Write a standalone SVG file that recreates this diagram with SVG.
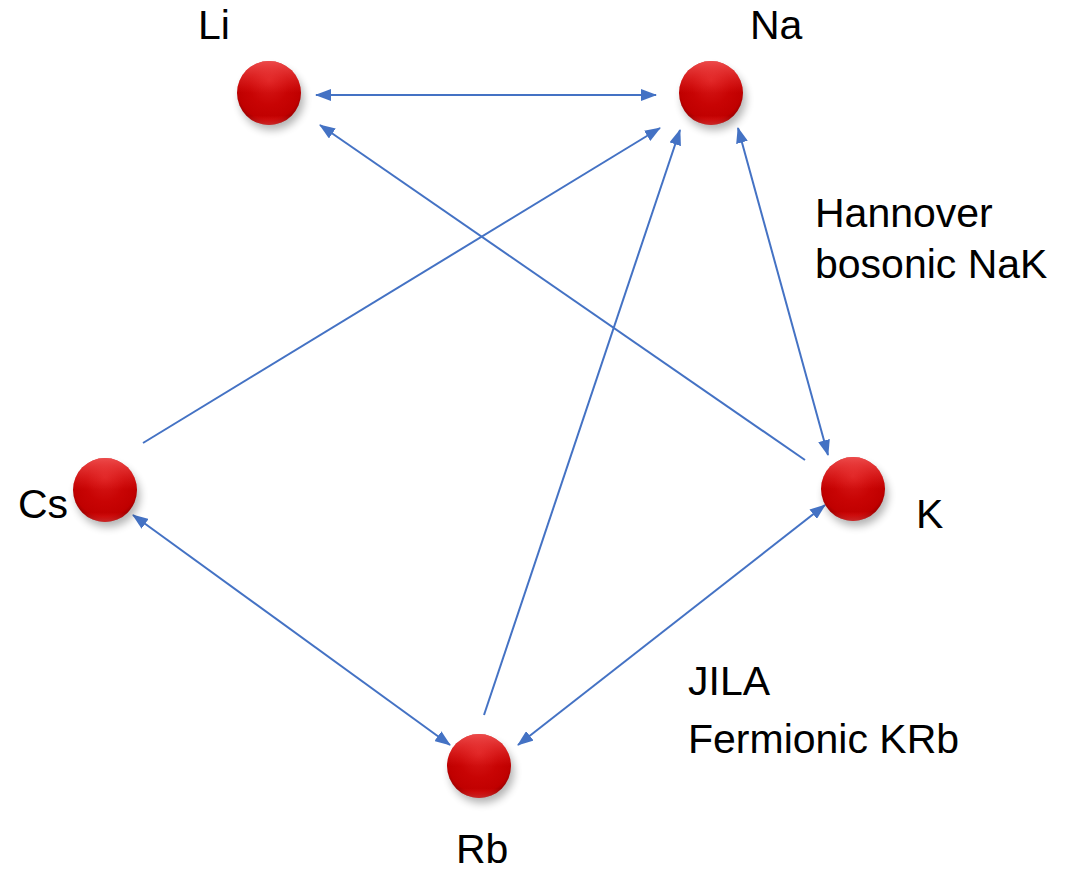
<svg xmlns="http://www.w3.org/2000/svg" width="1081" height="873" viewBox="0 0 1081 873">
  <style>
    .lbl { font-family: "Liberation Sans", Arial, sans-serif; font-size: 41px; fill: #000; }
    .link { stroke: #4472C4; stroke-width: 2; fill: none; }
  </style>
  <defs>
    <radialGradient id="ball" cx="0.5" cy="0.45" r="0.55" fx="0.5" fy="0.3">
      <stop offset="0" stop-color="#d81a1a"/>
      <stop offset="0.55" stop-color="#c80404"/>
      <stop offset="0.88" stop-color="#c00000"/>
      <stop offset="1" stop-color="#9a0000"/>
    </radialGradient>
    <linearGradient id="gloss" x1="0" y1="0" x2="0" y2="1">
      <stop offset="0" stop-color="#ff6a6a" stop-opacity="0.7"/>
      <stop offset="0.5" stop-color="#ff4040" stop-opacity="0"/>
      <stop offset="0.85" stop-color="#ff3030" stop-opacity="0"/>
      <stop offset="1" stop-color="#ff5050" stop-opacity="0.5"/>
    </linearGradient>
    <filter id="shadow" x="-50%" y="-50%" width="200%" height="200%">
      <feGaussianBlur stdDeviation="4"/>
    </filter>
    <marker id="head" viewBox="0 0 16 12" refX="15" refY="6" markerWidth="16" markerHeight="12" markerUnits="userSpaceOnUse" orient="auto-start-reverse">
      <path d="M0,0 L16,6 L0,12 Z" fill="#4472C4"/>
    </marker>
    <g id="sphere">
      <ellipse cx="3" cy="6" rx="32" ry="31" fill="#000" opacity="0.3" filter="url(#shadow)"/>
      <circle r="32" fill="url(#ball)"/>
      <circle r="32" fill="url(#gloss)"/>
    </g>
  </defs>

  <!-- connectors -->
  <g id="connectors">
    <line class="link" x1="316" y1="95" x2="656" y2="95" marker-start="url(#head)" marker-end="url(#head)"/>
    <line class="link" x1="805" y1="460" x2="320" y2="125" marker-end="url(#head)"/>
    <line class="link" x1="143" y1="443" x2="660" y2="128" marker-end="url(#head)"/>
    <line class="link" x1="484" y1="715" x2="680" y2="130" marker-end="url(#head)"/>
    <line class="link" x1="738" y1="128" x2="828" y2="455" marker-start="url(#head)" marker-end="url(#head)"/>
    <line class="link" x1="133" y1="515" x2="450" y2="745" marker-start="url(#head)" marker-end="url(#head)"/>
    <line class="link" x1="518" y1="745" x2="825" y2="505" marker-start="url(#head)" marker-end="url(#head)"/>
  </g>

  <!-- atoms -->
  <g id="Li">
    <use href="#sphere" x="269" y="93"/>
    <text class="lbl" x="198" y="39">Li</text>
  </g>
  <g id="Na">
    <use href="#sphere" x="711" y="93"/>
    <text class="lbl" x="750" y="39">Na</text>
  </g>
  <g id="K">
    <use href="#sphere" x="853" y="489"/>
    <text class="lbl" x="916" y="528">K</text>
  </g>
  <g id="Rb">
    <use href="#sphere" x="479" y="766"/>
    <text class="lbl" x="456" y="863">Rb</text>
  </g>
  <g id="Cs">
    <use href="#sphere" x="105" y="490"/>
    <text class="lbl" x="18" y="518">Cs</text>
  </g>

  <!-- experiment notes -->
  <g id="note-hannover">
    <text class="lbl" x="815" y="227">Hannover</text>
    <text class="lbl" x="815" y="278">bosonic NaK</text>
  </g>
  <g id="note-jila">
    <text class="lbl" x="688" y="695">JILA</text>
    <text class="lbl" x="688" y="753">Fermionic KRb</text>
  </g>
</svg>
